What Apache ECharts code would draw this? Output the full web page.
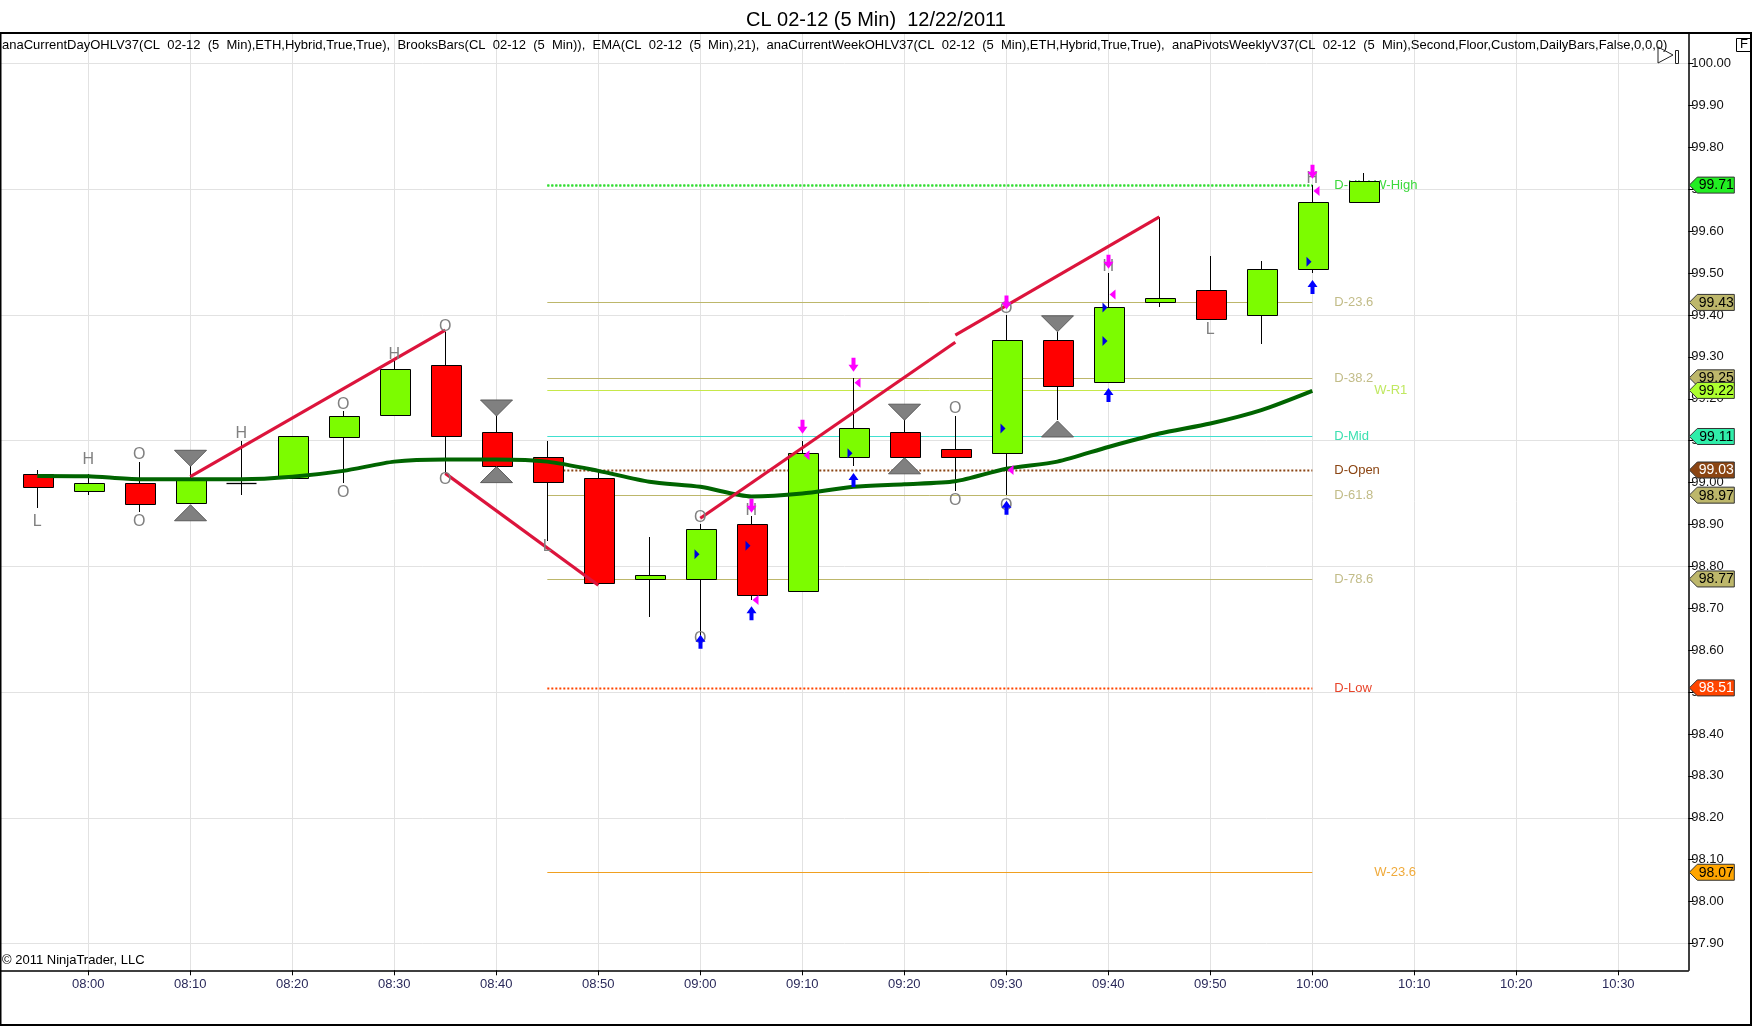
<!DOCTYPE html>
<html><head><meta charset="utf-8">
<script src="https://cdn.jsdelivr.net/npm/echarts@6/dist/echarts.min.js"></script>
<style>html,body{margin:0;padding:0;background:#fff;overflow:hidden}#c{width:1752px;height:1026px}</style>
</head><body><div id="c"></div>
<script>
// ---------- DATA ----------
const times  = ['07:55','08:00','08:05','08:10','08:15','08:20','08:25','08:30','08:35','08:40','08:45','08:50','08:55','09:00','09:05','09:10','09:15','09:20','09:25','09:30','09:35','09:40','09:45','09:50','09:55','10:00','10:05'];
const opens  = [99.02,98.98,99.00,98.95,99.00,99.01,99.11,99.16,99.28,99.12,99.06,99.01,98.77,98.77,98.90,98.74,99.06,99.12,99.08,99.07,99.34,99.24,99.43,99.46,99.40,99.51,99.67];
const highs  = [99.03,99.02,99.05,99.04,99.10,99.11,99.17,99.29,99.36,99.16,99.10,99.03,98.87,98.90,98.92,99.10,99.25,99.15,99.16,99.40,99.36,99.50,99.635,99.54,99.53,99.71,99.74];
const lows   = [98.94,98.97,98.93,98.95,98.97,99.01,99.00,99.16,99.02,99.04,98.86,98.755,98.68,98.63,98.72,98.74,99.04,99.06,98.98,98.97,99.15,99.24,99.42,99.39,99.33,99.50,99.67];
const closes = [98.99,99.00,98.95,99.01,99.00,99.11,99.16,99.27,99.11,99.04,99.00,98.76,98.78,98.89,98.73,99.07,99.13,99.06,99.06,99.34,99.23,99.42,99.44,99.39,99.51,99.67,99.72];

const emaValues = [99.016,99.015,99.008,99.008,99.008,99.014,99.028,99.050,99.055,99.055,99.050,99.028,99.002,98.990,98.967,98.974,98.990,98.996,99.003,99.033,99.050,99.085,99.117,99.141,99.173,99.219];

const swingA = [['08:10',99.014],['08:35',99.364]];
const swingB = [['08:35',99.022],['08:50',98.755]];
const swingC = [['09:00',98.915],['09:25',99.335]];
const swingD = [['09:25',99.352],['09:45',99.634]];

const levelNames  = ['D-High','W-High','D-23.6','D-38.2','W-R1','D-Mid','D-Open','D-61.8','D-78.6','D-Low','W-23.6'];
const levelValues = [99.71,99.71,99.43,99.25,99.22,99.11,99.03,98.97,98.77,98.51,98.07];
const levelFrom = '08:45', levelTo = '10:00';

const brooksLabels = [['07:55',98.907,'L'],['08:00',99.056,'H'],['08:05',99.066,'O'],['08:05',98.907,'O'],['08:15',99.116,'H'],
  ['08:25',99.185,'O'],['08:25',98.976,'O'],['08:30',99.306,'H'],['08:35',99.373,'O'],['08:35',99.006,'O'],['08:45',98.847,'L'],
  ['09:00',98.917,'O'],['09:00',98.628,'O'],['09:05',98.934,'H'],['09:25',99.177,'O'],['09:25',98.958,'O'],['09:30',99.416,'O'],
  ['09:30',98.946,'O'],['09:40',99.515,'H'],['09:50',99.364,'L'],['10:00',99.726,'H']];

const grayDown = [['08:10',99.058],['08:40',99.178],['09:20',99.168],['09:35',99.379]];
const grayUp   = [['08:10',98.928],['08:40',99.019],['09:20',99.040],['09:35',99.128]];
const magentaArrows = [['09:05',98.945],['09:10',99.133],['09:15',99.281],['09:30',99.430],['09:40',99.527],['10:00',99.742]];
const blueArrows    = [['09:00',98.620],['09:05',98.688],['09:15',99.006],['09:30',98.940],['09:40',99.209],['10:00',99.467]];
const magentaTicks  = [['09:05',98.720],['09:10',99.065],['09:15',99.238],['09:30',99.030],['09:40',99.449],['10:00',99.696]];
const blueTicks     = [['09:00',98.829],['09:05',98.849],['09:15',99.070],['09:30',99.129],['09:40',99.418],['09:40',99.338],['10:00',99.527]];

const xTickLabels = ['08:00','08:10','08:20','08:30','08:40','08:50','09:00','09:10','09:20','09:30','09:40','09:50','10:00','10:10','10:20','10:30'];
const yTickLabels = [97.9,98.0,98.1,98.2,98.3,98.4,98.5,98.6,98.7,98.8,98.9,99.0,99.1,99.2,99.3,99.4,99.5,99.6,99.7,99.8,99.9,100.0];
const yGridValues = [97.9,98.2,98.5,98.8,99.1,99.4,99.7,100.0];

const titleText = 'CL 02-12 (5 Min)  12/22/2011';
const legendText = 'anaCurrentDayOHLV37(CL  02-12  (5  Min),ETH,Hybrid,True,True),  BrooksBars(CL  02-12  (5  Min)),  EMA(CL  02-12  (5  Min),21),  anaCurrentWeekOHLV37(CL  02-12  (5  Min),ETH,Hybrid,True,True),  anaPivotsWeeklyV37(CL  02-12  (5  Min),Second,Floor,Custom,DailyBars,False,0,0,0)';
const copyrightText = '\u00a9 2011 NinjaTrader, LLC';

// ---------- STYLE ----------
const levelStyle = {
  'D-High': {color:'#33DD33', text:'#3CD83C', dash:[2,2], tag:'#22EE22', tagText:'#000', w:false},
  'W-High': {color:'#33DD33', text:'#3CD83C', dash:[2,2], tag:null, tagText:'#000', w:true},
  'D-23.6': {color:'#BDB76B', text:'#C2BC88', dash:null, tag:'#BDB76B', tagText:'#000', w:false},
  'D-38.2': {color:'#BDB76B', text:'#C2BC88', dash:null, tag:'#BDB76B', tagText:'#000', w:false},
  'W-R1':   {color:'#C6E84A', text:'#C0E860', dash:null, tag:'#ADFF2F', tagText:'#000', w:true},
  'D-Mid':  {color:'#40E0D0', text:'#3CE0B0', dash:null, tag:'#30EEAA', tagText:'#000', w:false},
  'D-Open': {color:'#8B4513', text:'#8B4513', dash:[2,2], tag:'#8B4513', tagText:'#fff', w:false},
  'D-61.8': {color:'#BDB76B', text:'#C2BC88', dash:null, tag:'#BDB76B', tagText:'#000', w:false},
  'D-78.6': {color:'#BDB76B', text:'#C2BC88', dash:null, tag:'#BDB76B', tagText:'#000', w:false},
  'D-Low':  {color:'#FF4500', text:'#E8442A', dash:[2,2], tag:'#FF4500', tagText:'#fff', w:false},
  'W-23.6': {color:'#F0A020', text:'#F0AA3A', dash:null, tag:'#FFA500', tagText:'#000', w:true}
};
const FONT = '"Liberation Sans", Arial, sans-serif';

// ---------- HELPERS ----------
const toMin = s => { const p = s.split(':'); return (+p[0]) * 60 + (+p[1]); };
const pad2 = n => (n < 10 ? '0' : '') + n;
const fmtMin = v => pad2(Math.floor(Math.round(v) / 60)) + ':' + pad2(Math.round(v) % 60);
const px = v => Math.round(v) + 0.5;

const candleData = times.map((t, i) => [toMin(t), opens[i], closes[i], lows[i], highs[i]]);
const emaData = emaValues.map((v, i) => [toMin(times[i]), v]);

function candleRender(params, api) {
  const t = api.value(0), o = api.value(1), c = api.value(2), l = api.value(3), h = api.value(4);
  const pO = api.coord([t, o]), pC = api.coord([t, c]), pL = api.coord([t, l]), pH = api.coord([t, h]);
  const w = 30, x = px(pO[0]);
  const top = Math.min(pO[1], pC[1]), bot = Math.max(pO[1], pC[1]);
  const ch = [{type:'line', shape:{x1:x, y1:Math.round(pH[1]), x2:x, y2:Math.round(pL[1])}, style:{stroke:'#000', lineWidth:1}}];
  if (bot - top < 1.5) {
    ch.push({type:'line', shape:{x1:x - w/2, y1:px(top), x2:x + w/2, y2:px(top)}, style:{stroke:'#000', lineWidth:1.3}});
  } else {
    ch.push({type:'rect', shape:{x:Math.round(x - w/2) + 0.5, y:px(top), width:w, height:Math.round(bot - top)},
      style:{fill: c >= o ? '#7CFC00' : '#FF0000', stroke:'#000', lineWidth:1}});
  }
  return {type:'group', children:ch};
}

function levelRender(params, api) {
  const idx = api.value(0);
  const name = levelNames[idx], val = levelValues[idx], st = levelStyle[name];
  const p1 = api.coord([toMin(levelFrom), val]), p2 = api.coord([toMin(levelTo), val]);
  const y = px(p1[1]);
  const ch = [];
  ch.push({type:'line', shape:{x1:p1[0], y1:y, x2:p2[0], y2:y}, style:{stroke:st.color, lineWidth:st.dash ? 2 : 1, lineDash:st.dash || null}});
  ch.push({type:'text', style:{text:name, x:p2[0] + (st.w ? 62 : 22), y:y, fill:st.text, font:'13px ' + FONT, align:'left', verticalAlign:'middle'}});
  return {type:'group', children:ch};
}

function tagRender(params, api) {
  const idx = api.value(0);
  const name = levelNames[idx], val = levelValues[idx], st = levelStyle[name];
  if (!st.tag) return {type:'group', children:[]};
  const y = api.coord([toMin(levelTo), val])[1];
  const ax = params.coordSys.x + params.coordSys.width;
  return {type:'group', children:[
    {type:'polygon', shape:{points:[[ax + 1, y], [ax + 9, y - 8], [ax + 46, y - 8], [ax + 46, y + 8], [ax + 9, y + 8]]},
      style:{fill:st.tag, stroke:'#333', lineWidth:1}},
    {type:'text', style:{text:val.toFixed(2), x:ax + 28, y:y + 0.5, fill:st.tagText, font:'14px ' + FONT, align:'center', verticalAlign:'middle'}}
  ]};
}

function textRender(params, api) {
  const p = api.coord([api.value(0), api.value(1)]);
  const d = params.dataIndex;
  return {type:'text', style:{text:brooksLabels[d][2], x:p[0], y:p[1], fill:'#808080', font:'16px ' + FONT, align:'center', verticalAlign:'middle'}};
}

function shapeRender(kind) {
  return function (params, api) {
    const p = api.coord([api.value(0), api.value(1)]);
    const x = Math.round(p[0]) + 0.5, y = p[1];
    let pts, fill, stroke = null;
    if (kind === 'grayDown') { pts = [[x - 16, y - 8], [x + 16, y - 8], [x, y + 8]]; fill = '#808080'; stroke = '#5a5a5a'; }
    else if (kind === 'grayUp') { pts = [[x - 16, y + 8], [x + 16, y + 8], [x, y - 8]]; fill = '#808080'; stroke = '#5a5a5a'; }
    else if (kind === 'magArrow') { pts = [[x - 2, y - 7], [x + 2, y - 7], [x + 2, y], [x + 5, y], [x, y + 7], [x - 5, y], [x - 2, y]]; fill = '#FF00FF'; }
    else if (kind === 'blueArrow') { pts = [[x - 2, y + 7], [x + 2, y + 7], [x + 2, y], [x + 5, y], [x, y - 7], [x - 5, y], [x - 2, y]]; fill = '#0000FF'; }
    else if (kind === 'magTick') { pts = [[x + 1, y], [x + 7, y - 5], [x + 7, y + 5]]; fill = '#FF00FF'; }
    else { pts = [[x - 6, y - 5], [x - 6, y + 5], [x - 1, y]]; fill = '#0000DD'; }
    return {type:'polygon', shape:{points:pts}, style:{fill:fill, stroke:stroke, lineWidth:1}};
  };
}

function shapeSeries(kind, arr, z) {
  return {type:'custom', coordinateSystem:'cartesian2d', clip:false, z:z, silent:true,
    renderItem:shapeRender(kind), data:arr.map(d => [toMin(d[0]), d[1]]), encode:{x:0, y:1}};
}
function swingSeries(arr) {
  return {type:'line', data:arr.map(d => [toMin(d[0]), d[1]]), showSymbol:false, symbol:'none', z:4, silent:true,
    lineStyle:{color:'#DC143C', width:3.2}, animation:false};
}

// ---------- CHART ----------
const chart = echarts.init(document.getElementById('c'), null, {renderer:'canvas'});
const xMin = 471.44, xMax = 636.86, yMin = 97.836, yMax = 100.073;

chart.setOption({
  animation:false,
  backgroundColor:'#fff',
  title:{text:titleText, left:741, top:5, textStyle:{fontSize:20, fontWeight:'normal', color:'#000', fontFamily:FONT}},
  grid:{left:1, right:63.7, top:33, bottom:55.7, containLabel:false},
  xAxis:{type:'value', min:xMin, max:xMax,
    axisLine:{show:true, onZero:false, lineStyle:{color:'#000', width:1.5}},
    axisTick:{show:true, length:5, customValues:xTickLabels.map(toMin), lineStyle:{color:'#000'}},
    axisLabel:{customValues:xTickLabels.map(toMin), formatter:v => fmtMin(v), color:'#2a2a5a', fontSize:13, fontFamily:FONT, margin:8},
    splitLine:{show:true, lineStyle:{color:'#e2e2e2', width:1}}},
  yAxis:[
    {type:'value', position:'right', min:yMin, max:yMax,
      axisLine:{show:true, onZero:false, lineStyle:{color:'#000', width:1.5}},
      axisTick:{show:true, length:5, inside:false, customValues:yTickLabels, lineStyle:{color:'#000'}},
      axisLabel:{customValues:yTickLabels, formatter:v => v.toFixed(2), color:'#111', fontSize:13, fontFamily:FONT, margin:3},
      splitLine:{show:false}},
    {type:'value', position:'left', min:yMin, max:yMax,
      axisLine:{show:false}, axisLabel:{show:false},
      axisTick:{show:false, customValues:yGridValues},
      splitLine:{show:true, lineStyle:{color:'#e2e2e2', width:1}}}
  ],
  graphic:[
    {type:'rect', shape:{x:0.5, y:33, width:1750.5, height:992}, style:{fill:null, stroke:'#000', lineWidth:2}, z:100, silent:true},
    {type:'text', left:2, top:39, style:{text:legendText, font:'13px ' + FONT, fill:'#000'}, z:50},
    {type:'text', left:2, top:954, style:{text:copyrightText, font:'13px ' + FONT, fill:'#000'}, z:50},
    {type:'rect', shape:{x:1736.5, y:38.5, width:14, height:13}, style:{fill:'#fff', stroke:'#000', lineWidth:1}, z:60},
    {type:'text', left:1740, top:38, style:{text:'F', font:'13px ' + FONT, fill:'#000'}, z:61},
    {type:'polygon', shape:{points:[[1658, 47], [1658, 63], [1673, 55]]}, style:{fill:null, stroke:'#222', lineWidth:1}, z:60},
    {type:'rect', shape:{x:1675.5, y:50.5, width:3, height:13}, style:{fill:null, stroke:'#222', lineWidth:1}, z:60}
  ],
  series:[
    {type:'custom', coordinateSystem:'cartesian2d', clip:false, z:1, silent:true, renderItem:levelRender,
      data:levelNames.map((n, i) => [i]), encode:{x:[], y:[]}},
    {type:'custom', coordinateSystem:'cartesian2d', clip:false, z:2, silent:true, renderItem:candleRender,
      data:candleData, encode:{x:0, y:[1, 2, 3, 4]}},
    {type:'line', data:emaData, showSymbol:false, symbol:'none', smooth:0.25, z:3, silent:true,
      lineStyle:{color:'#006400', width:4}},
    swingSeries(swingA), swingSeries(swingB), swingSeries(swingC), swingSeries(swingD),
    {type:'custom', coordinateSystem:'cartesian2d', clip:false, z:5, silent:true, renderItem:textRender,
      data:brooksLabels.map(d => [toMin(d[0]), d[1]]), encode:{x:0, y:1}},
    shapeSeries('grayDown', grayDown, 5),
    shapeSeries('grayUp', grayUp, 5),
    shapeSeries('magTick', magentaTicks, 6),
    shapeSeries('blueTick', blueTicks, 6),
    shapeSeries('magArrow', magentaArrows, 7),
    shapeSeries('blueArrow', blueArrows, 7),
    {type:'custom', coordinateSystem:'cartesian2d', clip:false, z:8, silent:true, renderItem:tagRender,
      data:levelNames.map((n, i) => [i]), encode:{x:[], y:[]}}
  ]
});
</script>
</body></html>
